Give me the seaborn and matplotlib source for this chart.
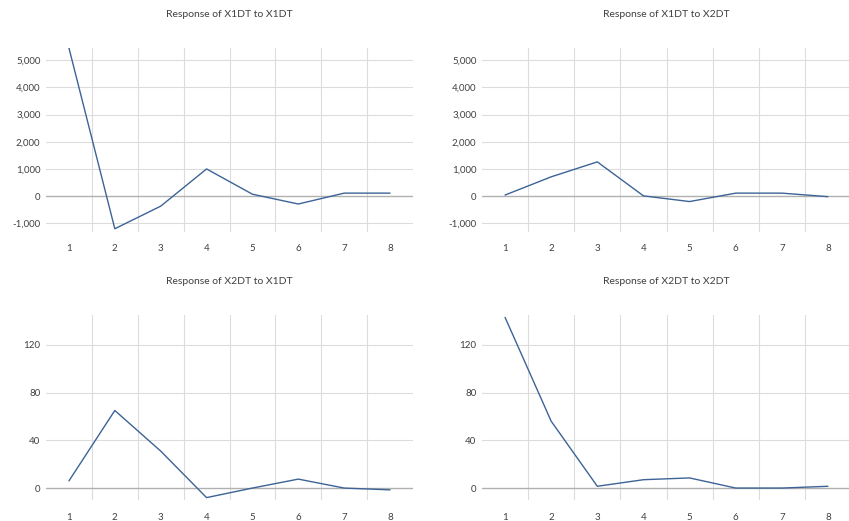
import pandas as pd
import matplotlib
matplotlib.use("Agg")
import matplotlib.pyplot as plt
from matplotlib.ticker import FuncFormatter, FixedLocator
import seaborn as sns

sns.set_theme(style="white")
plt.rcParams["font.family"] = ["Lato", "DejaVu Sans"]

periods = [1, 2, 3, 4, 5, 6, 7, 8]
x1_to_x1 = [5450, -1200, -370, 1000, 70, -290, 110, 110]
x1_to_x2 = [40, 710, 1260, 10, -200, 110, 110, -20]
x2_to_x1 = [6, 65, 31, -8, 0, 7.5, 0, -1.5]
x2_to_x2 = [143, 56, 1.5, 7, 8.5, 0, 0, 1.5]

titles = ["Response of X1DT to X1DT", "Response of X1DT to X2DT",
          "Response of X2DT to X1DT", "Response of X2DT to X2DT"]
series = [x1_to_x1, x1_to_x2, x2_to_x1, x2_to_x2]
top_ticks = [-1000, 0, 1000, 2000, 3000, 4000, 5000]
bottom_ticks = [0, 40, 80, 120]

W, H = 849, 521
fig = plt.figure(figsize=(W / 100, H / 100), dpi=100)

# axes boxes in pixels: left, top, right, bottom
boxes = [(46, 48, 413, 232), (482, 48, 851, 232),
         (46, 315, 413, 500), (482, 315, 851, 500)]

line_color = "#3d6396"
grid_color = "#dcdcdc"
text_color = "#404040"

for i, (box, title, vals) in enumerate(zip(boxes, titles, series)):
    l, t, r, b = box
    ax = fig.add_axes([l / W, 1 - b / H, (r - l) / W, (b - t) / H])
    df = pd.DataFrame({"period": periods, "value": vals})
    sns.lineplot(data=df, x="period", y="value", ax=ax, color=line_color, lw=1.0)

    ax.set_xlim(0.5, 8.5)
    if i < 2:
        ax.set_ylim(-1320, 5450)
        ax.set_yticks(top_ticks)
        ax.yaxis.set_major_formatter(FuncFormatter(lambda v, p: f"{v:,.0f}"))
    else:
        ax.set_ylim(-10, 145)
        ax.set_yticks(bottom_ticks)
    ax.set_xticks(periods)
    ax.xaxis.set_minor_locator(FixedLocator([1.5, 2.5, 3.5, 4.5, 5.5, 6.5, 7.5]))

    ax.grid(False)
    for yv in ax.get_yticks():
        if yv != 0:
            ax.axhline(yv, color=grid_color, lw=0.8, zorder=0)
    ax.grid(True, which="minor", axis="x", color=grid_color, lw=0.8)
    ax.axhline(0, color="#b0b0b0", lw=1.0, zorder=1)

    for s in ax.spines.values():
        s.set_visible(False)
    ax.tick_params(axis="both", which="both", length=0, labelsize=7,
                   colors=text_color)
    ax.tick_params(axis="x", pad=9)
    ax.tick_params(axis="y", pad=4)
    ax.set_xlabel("")
    ax.set_ylabel("")
    ax.set_title(title, fontsize=7.5, color=text_color, pad=22)

plt.savefig("out.png", dpi=100)
